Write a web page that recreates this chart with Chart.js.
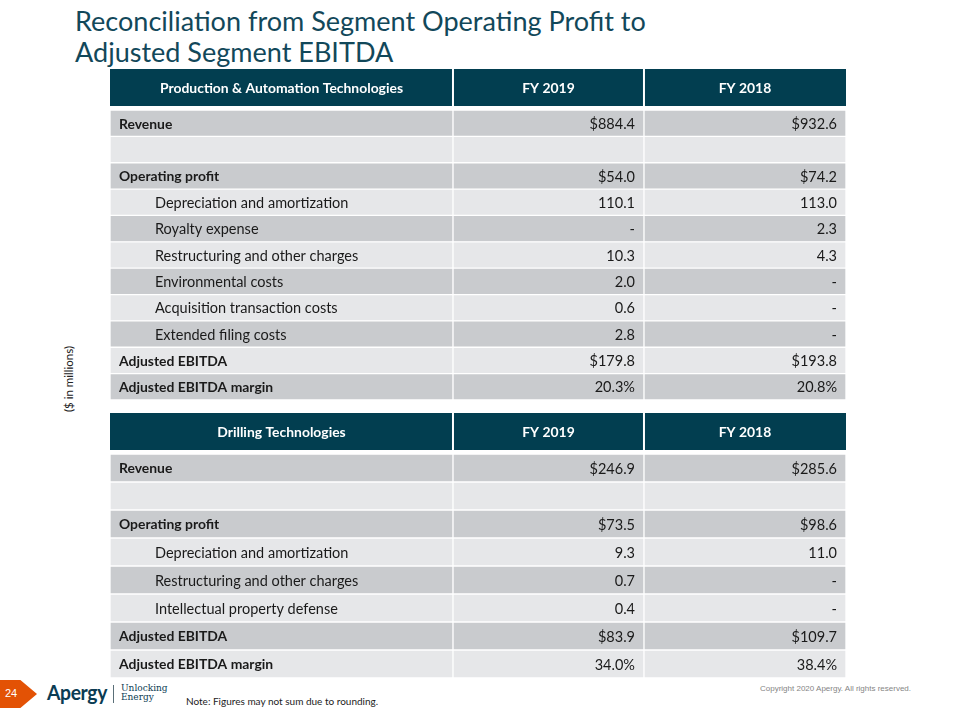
<!DOCTYPE html>
<html lang="en">
<head>
<meta charset="utf-8">
<title>Reconciliation from Segment Operating Profit to Adjusted Segment EBITDA</title>
<script src="https://cdn.jsdelivr.net/npm/chart.js@4.4.1/dist/chart.umd.min.js"></script>
<style>
  html, body { margin: 0; padding: 0; background: #fff; }
  body { width: 960px; height: 720px; position: relative; overflow: hidden; font-family: Lato, 'Open Sans', sans-serif; }
  #titulo { position: absolute; left: 75px; top: 5px; font-size: 28px; line-height: 31px; color: #12485a; white-space: nowrap; }
  .tabla { position: absolute; left: 110px; width: 736px; }
  #tabla-pat { top: 69px; height: 331px; }
  #tabla-dt  { top: 413px; height: 265px; }
  #unidades { position: absolute; left: 68px; top: 379px; transform: translate(-50%, -50%) rotate(-90deg);
              font-size: 11.5px; color: #222; white-space: nowrap; }
  #pagina { position: absolute; left: 0; top: 680px; width: 37px; height: 28px; background: #e35205;
            clip-path: polygon(0 0, 55% 0, 100% 50%, 55% 100%, 0 100%); }
  #pagina span { position: absolute; left: 5px; top: 7px; font: 11px 'Liberation Sans', Arial, sans-serif; color: #fff; }
  #logo { position: absolute; left: 47px; top: 679px; font-weight: 700; font-size: 21px; color: #0b3c53;
          letter-spacing: -0.4px; transform: scaleX(0.92); transform-origin: left; }
  #sep { position: absolute; left: 113px; top: 685px; width: 1px; height: 18px; background: #5a6f78; }
  #lema { position: absolute; left: 121px; top: 684px; font: 9px/9px 'DejaVu Serif', serif; color: #0b3c53; }
  #nota { position: absolute; left: 186px; top: 695px; font-size: 10px; color: #222; white-space: nowrap; }
  #copy { position: absolute; left: 760px; top: 684px; font: 8px 'Liberation Sans', Arial, sans-serif; color: #858585; white-space: nowrap; }
</style>
</head>
<body>
<div id="titulo">Reconciliation from Segment Operating Profit to<br>Adjusted Segment EBITDA</div>
<div id="unidades">($ in millions)</div>
<div class="tabla" id="tabla-pat"><canvas id="chart-pat"></canvas></div>
<div class="tabla" id="tabla-dt"><canvas id="chart-dt"></canvas></div>
<div id="pagina"><span>24</span></div>
<div id="logo">Apergy</div>
<div id="sep"></div>
<div id="lema">Unlocking<br>Energy</div>
<div id="nota">Note: Figures may not sum due to rounding.</div>
<div id="copy">Copyright 2020 Apergy. All rights reserved.</div>

<script>
'use strict';

/* ── DATOS: Production & Automation Technologies ── */
const HEADER_PAT = ['Production & Automation Technologies', 'FY 2019', 'FY 2018'];
const ROWS_PAT = [
  'Revenue', '', 'Operating profit',
  'Depreciation and amortization', 'Royalty expense', 'Restructuring and other charges',
  'Environmental costs', 'Acquisition transaction costs', 'Extended filing costs',
  'Adjusted EBITDA', 'Adjusted EBITDA margin'
];
const INDENT_PAT = [false, false, false, true, true, true, true, true, true, false, false];
const FORMAT_PAT = ['usd', '', 'usd', 'num', 'num', 'num', 'num', 'num', 'num', 'usd', 'pct'];
const FY2019_PAT = [884.4, null, 54.0, 110.1, 0, 10.3, 2.0, 0.6, 2.8, 179.8, 20.3];
const FY2018_PAT = [932.6, null, 74.2, 113.0, 2.3, 4.3, 0, 0, 0, 193.8, 20.8];

/* ── DATOS: Drilling Technologies ── */
const HEADER_DT = ['Drilling Technologies', 'FY 2019', 'FY 2018'];
const ROWS_DT = [
  'Revenue', '', 'Operating profit',
  'Depreciation and amortization', 'Restructuring and other charges', 'Intellectual property defense',
  'Adjusted EBITDA', 'Adjusted EBITDA margin'
];
const INDENT_DT = [false, false, false, true, true, true, false, false];
const FORMAT_DT = ['usd', '', 'usd', 'num', 'num', 'num', 'usd', 'pct'];
const FY2019_DT = [246.9, null, 73.5, 9.3, 0.7, 0.4, 83.9, 34.0];
const FY2018_DT = [285.6, null, 98.6, 11.0, 0, 0, 109.7, 38.4];

/* ── ESTILO ── */
const COL_EDGES   = [0, 0.466, 0.7255, 1];   // fracción del ancho de la tabla
const TEAL        = '#023e50';
const GRIS_OSCURO = '#c9cbce';
const GRIS_CLARO  = '#e6e7e9';
const TEXTO       = '#1a1a1a';
const FAMILIA     = "Lato, 'Open Sans', sans-serif";
const HEADER_ALTO = 37;
const HEADER_GAP  = 4;

/* Ajusta el tamaño de letra para que un texto ocupe el ancho medido en la imagen */
function fitFont(texto, peso, ancho) {
  const c = document.createElement('canvas').getContext('2d');
  c.font = `${peso} 100px ${FAMILIA}`;
  return 100 * ancho / c.measureText(texto).width;
}
/* Lato es más ancha que Calibri: un poco más grande para igualar la altura */
const FS   = fitFont('Depreciation and amortization', 400, 181) * 1.07;
const FS_B = fitFont('Adjusted EBITDA margin', 700, 147) * 1.05;

document.getElementById('titulo').style.fontSize =
  fitFont('Reconciliation from Segment Operating Profit to', 400, 571).toFixed(2) + 'px';

function formato(v, tipo) {
  if (v === null) return '';
  if (v === 0) return '-';
  const s = v.toFixed(1);
  if (tipo === 'usd') return '$' + s;
  if (tipo === 'pct') return s + '%';
  return s;
}

/* ── TABLA COMO GRÁFICA DE BARRAS FLOTANTES ── */
function tablaChart(id, header, rows, indent, formatos, fy2019, fy2018) {
  const valores = [null, fy2019, fy2018];

  const datasets = [0, 1, 2].map(c => ({
    data: rows.map(() => [COL_EDGES[c], COL_EDGES[c + 1]]),
    backgroundColor: ctx => ctx.dataIndex % 2 === 0 ? GRIS_OSCURO : GRIS_CLARO,
    borderColor: '#ffffff',
    borderWidth: 1,
    borderSkipped: false,
    grouped: false,
    barPercentage: 1,
    categoryPercentage: 1,
  }));

  const textos = {
    id: 'textos',
    afterDatasetsDraw(chart) {
      const { ctx, chartArea, scales: { x, y } } = chart;
      ctx.save();

      /* Cabecera */
      const top = chartArea.top - HEADER_GAP - HEADER_ALTO;
      for (let c = 0; c < 3; c++) {
        const x0 = x.getPixelForValue(COL_EDGES[c]);
        const x1 = x.getPixelForValue(COL_EDGES[c + 1]);
        ctx.fillStyle = TEAL;
        ctx.fillRect(x0 + (c > 0 ? 1 : 0), top, (x1 - x0) - (c > 0 ? 1 : 0) - (c < 2 ? 1 : 0), HEADER_ALTO);
        ctx.fillStyle = '#ffffff';
        ctx.font = `700 ${FS_B}px ${FAMILIA}`;
        ctx.textAlign = 'center';
        ctx.textBaseline = 'middle';
        ctx.fillText(header[c], (x0 + x1) / 2, top + HEADER_ALTO / 2 + 1);
      }

      /* Filas */
      ctx.fillStyle = TEXTO;
      ctx.textBaseline = 'middle';
      rows.forEach((lab, i) => {
        const yc = y.getPixelForValue(i) + 1;
        const negrita = !indent[i];
        ctx.textAlign = 'left';
        ctx.font = negrita ? `700 ${FS_B}px ${FAMILIA}` : `400 ${FS}px ${FAMILIA}`;
        ctx.fillText(lab, x.getPixelForValue(0) + (indent[i] ? 45 : 9), yc);

        ctx.textAlign = 'right';
        ctx.font = `400 ${FS}px ${FAMILIA}`;
        for (let c = 1; c < 3; c++) {
          ctx.fillText(formato(valores[c][i], formatos[i]), x.getPixelForValue(COL_EDGES[c + 1]) - 9, yc);
        }
      });
      ctx.restore();
    }
  };

  return new Chart(document.getElementById(id), {
    type: 'bar',
    data: { labels: rows, datasets },
    options: {
      indexAxis: 'y',
      responsive: true,
      maintainAspectRatio: false,
      animation: false,
      events: [],
      layout: { padding: { top: HEADER_ALTO + HEADER_GAP, left: 0, right: 0, bottom: 0 } },
      plugins: { legend: { display: false }, tooltip: { enabled: false } },
      scales: {
        x: { type: 'linear', min: 0, max: 1, display: false },
        y: { type: 'category', display: false, offset: true, grid: { display: false } }
      }
    },
    plugins: [textos]
  });
}

tablaChart('chart-pat', HEADER_PAT, ROWS_PAT, INDENT_PAT, FORMAT_PAT, FY2019_PAT, FY2018_PAT);
tablaChart('chart-dt',  HEADER_DT,  ROWS_DT,  INDENT_DT,  FORMAT_DT,  FY2019_DT,  FY2018_DT);
</script>
</body>
</html>
